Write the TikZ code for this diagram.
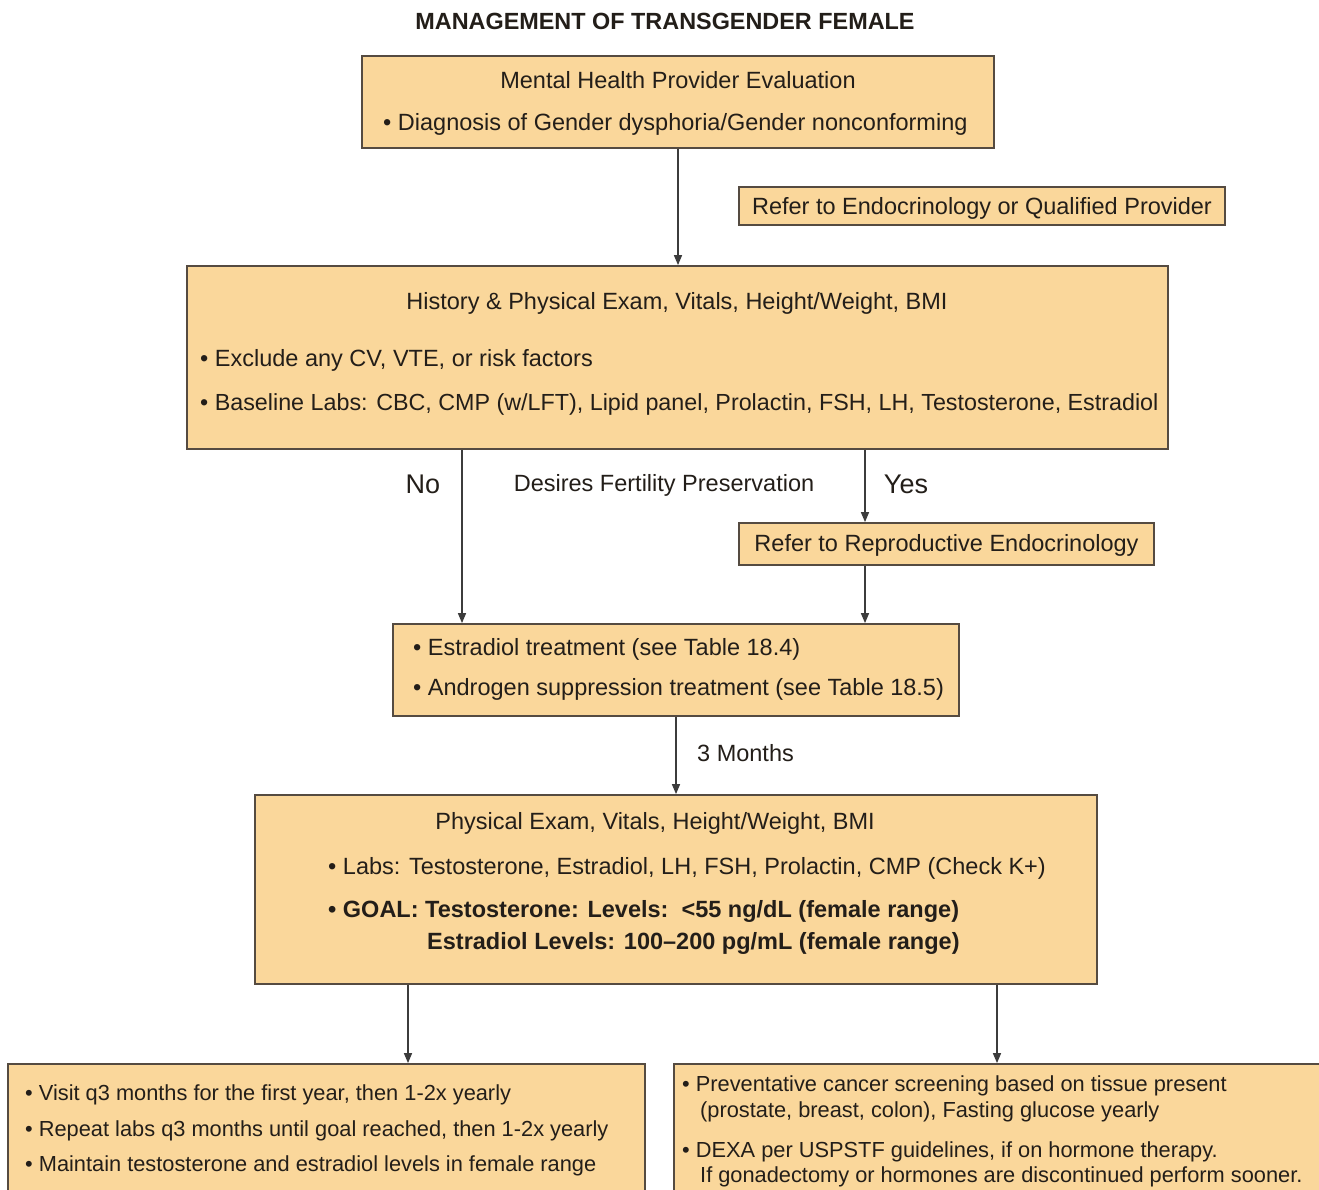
\documentclass[tikz,border=0pt]{standalone}
\usepackage{fontspec}
\setmainfont{Liberation Sans}
\usetikzlibrary{arrows.meta}
\definecolor{boxfill}{RGB}{250,215,155}
\definecolor{boxline}{RGB}{85,75,65}
\definecolor{txt}{RGB}{35,30,25}
\definecolor{lin}{RGB}{60,60,60}
\begin{document}
\begin{tikzpicture}[x=1pt,y=-1pt,
  box/.style={draw=boxline, fill=boxfill, line width=1.8pt, inner sep=0pt},
  body/.style={text=txt, inner sep=0pt, font=\fontsize{23.5}{28}\selectfont},
  small/.style={text=txt, inner sep=0pt, font=\fontsize{21.8}{26}\selectfont},
  big/.style={text=txt, inner sep=0pt, font=\fontsize{27}{32}\selectfont},
  arr/.style={draw=lin, line width=1.5pt, -{Triangle[length=10pt,width=8pt]}}]
\useasboundingbox (0,0) rectangle (1319,1190);
\clip (0,0) rectangle (1319,1190);
\fill[white] (0,0) rectangle (1319,1190);

\node[body, font=\bfseries\fontsize{23.4}{28}\selectfont, anchor=mid] (title) at (665,27) {MANAGEMENT OF TRANSGENDER FEMALE};

% boxes
\node[box, minimum width=632pt, minimum height=92pt] (b1) at (678,102) {};
\node[box, minimum width=486pt, minimum height=38pt] (ref1) at (982,206) {};
\node[box, minimum width=981pt, minimum height=183pt] (b2) at (677.5,357.5) {};
\node[box, minimum width=415pt, minimum height=42pt] (repro) at (946.5,544) {};
\node[box, minimum width=566pt, minimum height=92pt] (b3) at (676,670) {};
\node[box, minimum width=842pt, minimum height=189pt] (b4) at (676,889.5) {};
\node[box, minimum width=637pt, minimum height=136pt] (b5) at (326.5,1132) {};
\node[box, minimum width=656pt, minimum height=136pt] (b6) at (1002,1132) {};

% texts
\node[body, anchor=mid] (t1a) at (678,86) {Mental Health Provider Evaluation};
\node[body, anchor=mid west] (t1b) at (383,128) {\textbullet\ Diagnosis of Gender dysphoria/Gender nonconforming};
\node[body, anchor=mid] (tref1) at (982,212) {Refer to Endocrinology or Qualified Provider};
\node[body, anchor=mid] (t2a) at (677,307) {History \& Physical Exam, Vitals, Height/Weight, BMI};
\node[body, anchor=mid west] (t2b) at (200,364) {\textbullet\ Exclude any CV, VTE, or risk factors};
\node[body, anchor=mid west, font=\fontsize{23.3}{28}\selectfont] (t2c) at (200,408) {\textbullet\ Baseline Labs: CBC, CMP (w/LFT), Lipid panel, Prolactin, FSH, LH, Testosterone, Estradiol};
\node[big, anchor=mid] (tno) at (423,491) {No};
\node[body, anchor=mid] (tdes) at (664,489) {Desires Fertility Preservation};
\node[big, anchor=mid] (tyes) at (906,491) {Yes};
\node[body, anchor=mid] (trepro) at (946.5,549) {Refer to Reproductive Endocrinology};
\node[body, anchor=mid west] (t3a) at (413,653) {\textbullet\ Estradiol treatment (see Table 18.4)};
\node[body, anchor=mid west] (t3b) at (413,693) {\textbullet\ Androgen suppression treatment (see Table 18.5)};
\node[body, anchor=mid west] (tmon) at (697,759) {3 Months};
\node[body, anchor=mid] (t4a) at (655,827) {Physical Exam, Vitals, Height/Weight, BMI};
\node[body, anchor=mid west] (t4b) at (328,872) {\textbullet\ Labs: Testosterone, Estradiol, LH, FSH, Prolactin, CMP (Check K+)};
\node[body, anchor=mid west, font=\bfseries\fontsize{23.5}{28}\selectfont] (t4c) at (328,915) {\textbullet\ GOAL: Testosterone: Levels:\ \ \textless55 ng/dL (female range)};
\node[body, anchor=mid west, font=\bfseries\fontsize{23.5}{28}\selectfont] (t4d) at (427,947) {Estradiol Levels: 100–200 pg/mL (female range)};
\node[small, anchor=mid west] (t5a) at (25,1098) {\textbullet\ Visit q3 months for the first year, then 1-2x yearly};
\node[small, anchor=mid west] (t5b) at (25,1134) {\textbullet\ Repeat labs q3 months until goal reached, then 1-2x yearly};
\node[small, anchor=mid west] (t5c) at (25,1169) {\textbullet\ Maintain testosterone and estradiol levels in female range};
\node[small, anchor=mid west] (t6a) at (682,1089) {\textbullet\ Preventative cancer screening based on tissue present};
\node[small, anchor=mid west] (t6b) at (700,1115) {(prostate, breast, colon), Fasting glucose yearly};
\node[small, anchor=mid west] (t6c) at (682,1155) {\textbullet\ DEXA per USPSTF guidelines, if on hormone therapy.};
\node[small, anchor=mid west] (t6d) at (700,1180) {If gonadectomy or hormones are discontinued perform sooner.};

% connector x positions
\coordinate (xno) at (462,0);
\coordinate (xyes) at (865,0);
\coordinate (xl) at (408,0);
\coordinate (xr) at (997,0);

\draw[arr] (b1.south) -- (b1.south |- b2.north);
\draw[arr] (b2.south -| xno) -- (b3.north -| xno);
\draw[arr] (b2.south -| xyes) -- (repro.north -| xyes);
\draw[arr] (repro.south -| xyes) -- (b3.north -| xyes);
\draw[arr] (b3.south) -- (b3.south |- b4.north);
\draw[arr] (b4.south -| xl) -- (b5.north -| xl);
\draw[arr] (b4.south -| xr) -- (b6.north -| xr);
\end{tikzpicture}
\end{document}
